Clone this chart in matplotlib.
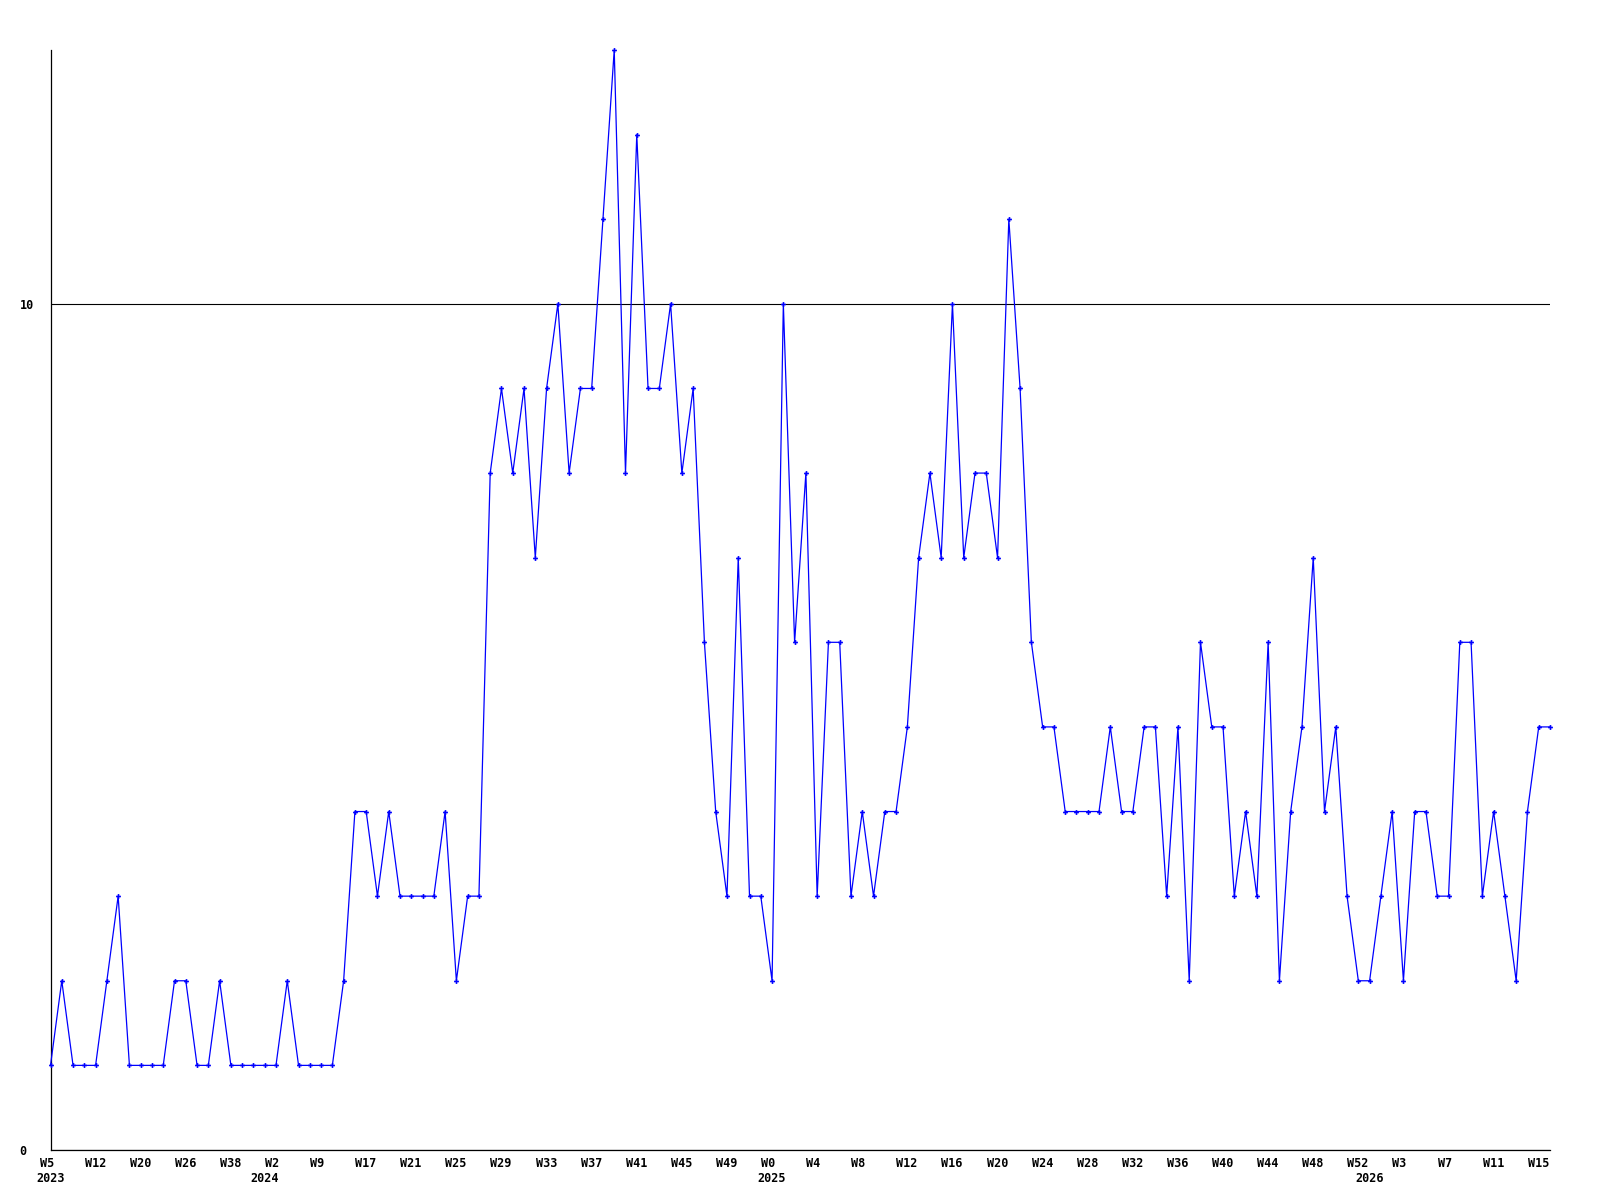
#!/usr/bin/env python3

import matplotlib
matplotlib.use("Agg")
import matplotlib.pyplot as plt
from matplotlib.transforms import ScaledTranslation

# weekly counts, one per point
counts = [
    1, 2, 1, 1, 1, 2, 3, 1, 1, 1, 1, 2, 2, 1, 1, 2, 1, 1, 1, 1,
    1, 2, 1, 1, 1, 1, 2, 4, 4, 3, 4, 3, 3, 3, 3, 4, 2, 3, 3, 8,
    9, 8, 9, 7, 9, 10, 8, 9, 9, 11, 13, 8, 12, 9, 9, 10, 8, 9, 6, 4,
    3, 7, 3, 3, 2, 10, 6, 8, 3, 6, 6, 3, 4, 3, 4, 4, 5, 7, 8, 7,
    10, 7, 8, 8, 7, 11, 9, 6, 5, 5, 4, 4, 4, 4, 5, 4, 4, 5, 5, 3,
    5, 2, 6, 5, 5, 3, 4, 3, 6, 2, 4, 5, 7, 4, 5, 3, 2, 2, 3, 4,
    2, 4, 4, 3, 3, 6, 6, 3, 4, 3, 2, 4, 5, 5,
]

# labels every 4th point
week_labels = [
    "W5", "W12", "W20", "W26", "W38", "W2", "W9", "W17", "W21", "W25",
    "W29", "W33", "W37", "W41", "W45", "W49", "W0", "W4", "W8", "W12",
    "W16", "W20", "W24", "W28", "W32", "W36", "W40", "W44", "W48", "W52",
    "W3", "W7", "W11", "W15",
]
label_step = 4

years = ["2023", "2024", "2025", "2026"]
year_index = [0, 19, 64, 117]

y_ticks = [0, 10]
y_max = 13


def main():
    font = "DejaVu Sans Mono"
    fs = 8.5
    fig = plt.figure(figsize=(16, 12), dpi=100)
    W, H = 1600, 1200
    ax = fig.add_axes([50.5 / W, 50 / H, (1550 - 50.5) / W, (1150 - 50) / H])

    x = list(range(len(counts)))
    ax.plot(x, counts, color="#0000ff", lw=0.9, marker="P", markersize=3.5,
            markeredgewidth=0, zorder=3, clip_on=False)

    ax.set_xlim(0, len(counts) - 1)
    ax.set_ylim(0, y_max)

    for s in ["top", "right"]:
        ax.spines[s].set_visible(False)
    for s in ["left", "bottom"]:
        ax.spines[s].set_color("black")
        ax.spines[s].set_linewidth(0.9)

    ax.set_yticks(y_ticks)
    ax.set_yticklabels([str(v) for v in y_ticks], fontsize=fs, fontweight="bold", family=font)
    ax.yaxis.grid(True, color="black", lw=0.8)
    ax.set_axisbelow(True)

    xt = [i * label_step for i in range(len(week_labels))]
    ax.set_xticks(xt)
    ax.set_xticklabels(week_labels, fontsize=fs, fontweight="bold", family=font)
    ax.tick_params(axis="both", length=0)
    ax.tick_params(axis="x", pad=5)
    ax.tick_params(axis="y", pad=0)

    off_x = ScaledTranslation(-11 / 100, 0, fig.dpi_scale_trans)
    for lab in ax.get_xticklabels():
        lab.set_horizontalalignment("left")
        lab.set_transform(lab.get_transform() + off_x)

    off_y = ScaledTranslation(-31 / 100, 0, fig.dpi_scale_trans)
    for lab in ax.get_yticklabels():
        lab.set_horizontalalignment("left")
        lab.set_transform(lab.get_transform() + off_y)

    trans = ax.get_xaxis_transform()
    for xi, yr in zip(year_index, years):
        ax.text(xi, 0, yr, transform=trans + ScaledTranslation(0, -22 / 100, fig.dpi_scale_trans),
                ha="center", va="top", fontsize=fs, fontweight="bold", family=font)

    fig.savefig("out.png", dpi=100, facecolor="white")


if __name__ == "__main__":
    main()
